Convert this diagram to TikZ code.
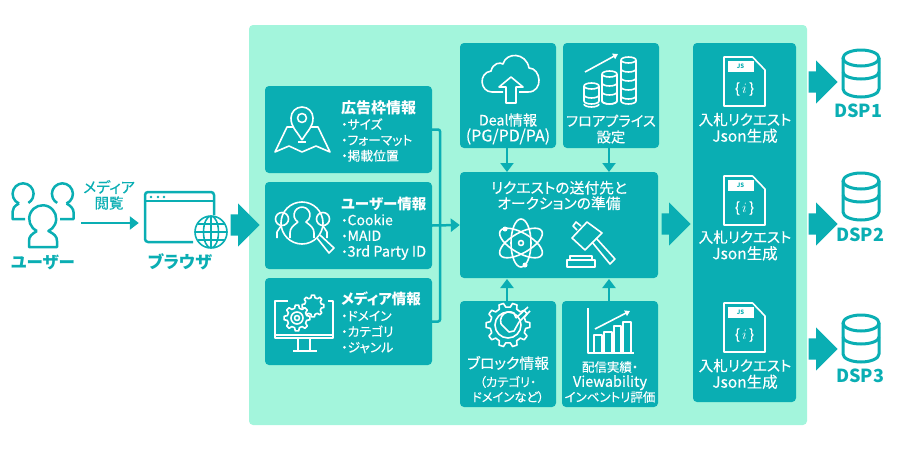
\documentclass[tikz,border=0pt]{standalone}
\usepackage{fontspec}
\setmainfont{Noto Sans CJK JP}[RawFeature={+palt},UprightFeatures={FakeBold=0.3}]
\usetikzlibrary{arrows.meta,positioning,shapes.arrows}
\definecolor{tealmain}{HTML}{0AAEB3}
\definecolor{mintback}{HTML}{A3F5DC}
\newcommand{\fs}[1]{\fontsize{#1}{#1}\selectfont}
% gear outline: x, y, outer radius, inner radius, angle step
\newcommand{\gearicon}[5]{
  \draw[icon,fill=tealmain,shift={(#1,#2)}] ({-0.3*#5}:#4)
    foreach \a in {0,#5,...,359} {
      -- ({\a-0.3*#5}:#4) -- ({\a-0.17*#5}:#3) -- ({\a+0.17*#5}:#3) -- ({\a+0.3*#5}:#4)
    } -- cycle;
}
% stack of coins: x, top y, bottom y
\newcommand{\coinstack}[3]{
  \draw[icon] (#1,#2) ellipse[x radius=7.5,y radius=3];
  \draw[icon] (#1-7.5,#2) -- (#1-7.5,#3-3) arc[start angle=180,end angle=0,x radius=7.5,y radius=3] -- (#1+7.5,#2);
  \foreach \yy in {#2,...,#3}{
    \pgfmathparse{int(mod(\yy-#2,9))}
    \ifnum\pgfmathresult=0 \ifnum\yy>#2
      \draw[icon] (#1-7.5,\yy) arc[start angle=180,end angle=0,x radius=7.5,y radius=3];
    \fi\fi
  }
}
\tikzset{
    % Define style for boxes
    panel/.style={
           rectangle,
           rounded corners=4pt,
           fill=tealmain,
           inner sep=0pt},
    % Define text styles
    tealtext/.style={text=tealmain,align=center,inner sep=0pt},
    whitetext/.style={text=white,align=center,inner sep=0pt},
    listtext/.style={text=white,align=left,anchor=west,inner sep=0pt,
           font=\fontsize{12.8}{15.7}\selectfont},
    jsontext/.style={whitetext,font=\fontsize{14.6}{16.5}\selectfont},
    % Define arrow styles
    pil/.style={
           -{Triangle[length=9pt,width=13pt]},
           draw=tealmain,
           line width=2.5pt},
    fatarrow/.style={
           single arrow,
           fill=tealmain,
           inner xsep=0pt,
           inner ysep=10.5pt,
           anchor=tip,
           minimum height=29pt,
           single arrow head extend=11pt},
    % Define icon lines
    icon/.style={draw=white,line width=1.6pt,line join=round},
    tealicon/.style={draw=tealmain,line width=2.5pt,line join=round},
    % json file on the right panel
    pics/fileicon/.style={code={
      \draw[icon] (-20.5,-24.5) -- (8,-24.5) -- (20.5,-11.5) -- (20.5,24.5) -- (-20.5,24.5) -- cycle;
      \fill[white] (-17,-20.5) rectangle (9,-9.5);
      \node[text=tealmain,inner sep=0pt,font=\bfseries\fs{6}] (-js) at (-4,-15) {JS};
      \node[whitetext,font=\fs{14}] (-brace) at (0,7.5) {\{\,$i$\,\}};
    }},
    % database drum
    pics/dbicon/.style={code={
      \draw[tealicon,line width=3pt] (0,-16) ellipse[x radius=18,y radius=8];
      \draw[tealicon,line width=3pt] (-18,-16) -- (-18,15)
        arc[start angle=180,end angle=0,x radius=18,y radius=8] -- (18,-16);
      \draw[tealicon,line width=3pt] (-18,-2) arc[start angle=180,end angle=0,x radius=18,y radius=7];
    }}
}
\begin{document}
\begin{tikzpicture}[x=1pt,y=-1pt]
  \useasboundingbox (0,0) rectangle (900,450);
  \node[fill=mintback,rounded corners=4pt,minimum width=558pt,minimum height=400pt,inner sep=0pt] (backarea) at (528,225) {};

  % left side
  \node[minimum width=76pt,inner sep=0pt] (users) at (43,223) {};
  \draw[tealicon] (19,203.5) arc[start angle=113,end angle=420,radius=10.5]
    (19,203.5) .. controls (14,206) and (12.5,209) .. (12.5,212) -- (12.5,219) -- (25,219);
  \draw[tealicon] (66.5,203.5) arc[start angle=67,end angle=-240,radius=10.5]
    (66.5,203.5) .. controls (71,206) and (73.5,209) .. (73.5,212) -- (73.5,219) -- (60,219);
  \draw[tealicon] (37,231) arc[start angle=115,end angle=425,radius=13.5]
    .. controls (54,234) and (57,236) .. (57,241) -- (57,247) -- (29,247) -- (29,241) .. controls (29,236) and (32,234) .. (37,231);
  \node[tealtext,font=\bfseries\fs{16.5}] (userlabel) at (43,262) {ユーザー};

  \node[minimum width=70pt,inner sep=0pt] (browser) at (179,223) {};
  \draw[tealicon,rounded corners=3pt] (193,242) -- (145,242) -- (145,192) -- (214,192) -- (214,215);
  \draw[tealicon] (145,201) -- (214,201);
  \foreach \dx in {151,158,164}{ \fill[tealmain] (\dx,197) circle[radius=1.4]; }
  \draw[tealmain,line width=1.6pt] (211,232) circle[radius=16] (211,232) ellipse[x radius=7.5,y radius=16]
    (195,232) -- (227,232) (211,216) -- (211,248) (198,224) -- (224,224) (198,240) -- (224,240);
  \node[tealtext,font=\bfseries\fs{17}] (browserlabel) at (180,262) {ブラウザ};
  \draw[pil,shorten >=5pt] (users) -- (browser);
  \node[tealtext,font=\fs{15}] (viewlabel) at (109,187) {メディア};
  \node[tealtext,font=\fs{14.5}] (viewlabeltwo) at (109,203) {閲覧};
  \node[fatarrow] (fatone) at (260,225) {};

  % three source boxes
  \node[panel,minimum width=167pt,minimum height=87pt] (adbox) at (348.5,129.5) {};
  \node[panel,minimum width=167pt,minimum height=87pt] (userbox) at (348.5,225.5) {};
  \node[panel,minimum width=167pt,minimum height=87pt] (mediabox) at (348.5,321.5) {};
  \node[whitetext,anchor=west,font=\bfseries\fs{15}] (adtitle) at (341,108) {広告枠情報};
  \node[listtext] (adlist) at (341,140) {・サイズ\\・フォーマット\\・掲載位置};
  \node[whitetext,anchor=west,font=\bfseries\fs{14.5}] (usertitle) at (341,204) {ユーザー情報};
  \node[listtext] (userlist) at (341,237) {・{\fs{14}Cookie}\\・{\fs{14}MAID}\\・{\fs{14.5}3rd Party ID}};
  \node[whitetext,anchor=west,font=\bfseries\fs{14.5}] (mediatitle) at (341,299) {メディア情報};
  \node[listtext] (medialist) at (341,332) {・ドメイン\\・カテゴリ\\・ジャンル};

  % map icon
  \draw[icon] (302,140) .. controls (296,130) and (291,127) .. (291,118) arc[start angle=180,end angle=360,radius=11]
    .. controls (313,127) and (308,130) .. (302,140);
  \draw[icon] (302,118) circle[radius=4.5];
  \draw[icon] (293,127) -- (287,127) -- (275,152) -- (289,146) -- (302,152) -- (316,146) -- (330,152) -- (318,127) -- (311,127);
  \draw[icon] (298,142) -- (306,142);
  % search icon
  \draw[icon] (302,223) circle[radius=21];
  \draw[icon] (298,222) arc[start angle=120,end angle=420,radius=8]
    .. controls (311,226) and (314,228) .. (314,233) -- (314,238) (290,238) -- (290,233) .. controls (290,228) and (293,226) .. (298,222);
  \draw[icon] (282,219) circle[radius=6.5] (277,238) -- (277,232) -- (281,226);
  \draw[icon] (323,219) circle[radius=6.5] (327,238) -- (327,232) -- (323,226);
  \draw[icon] (317,238) -- (329,253) -- (334,248) -- (320,235);
  % monitor icon
  \draw[icon] (288,301) -- (275,301) -- (275,338) -- (333,338) -- (333,301) -- (328,301);
  \draw[icon] (275,335) -- (333,335) (298,338) -- (298,351) (310,338) -- (310,351) (293,351) -- (317,351);
  \gearicon{313}{306}{11}{8.5}{45}
  \gearicon{297}{318}{13}{10}{45}
  \draw[icon] (297,318) circle[radius=2.5] (297,318) circle[radius=6];

  % bus to the centre box
  \coordinate (busturn) at (440,225);
  \draw[draw=tealmain,line width=2.5pt,rounded corners=2pt] (adbox.east) -| (busturn) |- (mediabox.east);
  \node[panel,minimum width=198pt,minimum height=106pt] (centerbox) at (559,225) {};
  \draw[pil] (userbox.east) -- (centerbox.west);
  \node[whitetext,font=\fontsize{14.8}{15.5}\selectfont] (centerlabel) at (559,195.5) {リクエストの送付先と\\オークションの準備};

  % top boxes
  \node[panel,minimum width=96pt,minimum height=105pt] (dealbox) at (508,95.5) {};
  \node[panel,minimum width=96pt,minimum height=105pt] (floorbox) at (611,95.5) {};
  \node[whitetext,font=\fontsize{14.3}{16}\selectfont] (deallabel) at (508,129) {Deal情報\\{\fs{16}(PG/PD/PA)}};
  \node[whitetext,font=\fontsize{14.3}{16}\selectfont] (floorlabel) at (611,129) {フロアプライス\\設定};
  \draw[pil] (dealbox.south -| 507,0) -- (507,172);
  \draw[pil] (floorbox.south -| 609,0) -- (609,172);
  % cloud icon
  \draw[icon] (503,92) -- (492,92) .. controls (480,92) and (478,73) .. (491,71) .. controls (493,63) and (500,62) .. (503,64)
    .. controls (506,52) and (526,52) .. (529,68) .. controls (541,68) and (544,92) .. (528,92) -- (519,92);
  \draw[icon] (506,103) -- (516,103) -- (516,87) -- (523,87) -- (511,77) -- (499,87) -- (506,87) -- cycle;
  % coins icon
  \coinstack{591.5}{86}{104}
  \coinstack{609.5}{74}{104}
  \coinstack{628.5}{60}{104}
  \draw[icon,-{Triangle[length=5pt,width=6pt]}] (585,72) -- (618,54);

  % center icons
  \foreach \rr in {30,90,150}{
    \draw[icon,rotate around={\rr:(521,243)}] (521,243) ellipse[x radius=24,y radius=10];
  }
  \draw[icon] (521,243) circle[radius=2.5];
  \fill[white] (505,229) circle[radius=2.5] (525,265) circle[radius=2.5];
  \draw[icon] (587,222) -- (602,233) -- (585,250) -- (572,238) -- cycle;
  \draw[icon] (581,226) -- (576,222) -- (573,226) -- (577,230);
  \draw[icon] (592,242) -- (610,264) -- (615,259) -- (596,238);
  \draw[icon] (567,267) -- (567,260) -- (595,260) -- (595,267) -- cycle (570,260) -- (570,256) -- (592,256) -- (592,260);

  % bottom boxes
  \node[panel,minimum width=96pt,minimum height=106pt] (blockbox) at (508,354) {};
  \node[panel,minimum width=96pt,minimum height=106pt] (statsbox) at (610,354) {};
  \node[whitetext,font=\fs{14.8}] (blocklabel) at (508,363) {ブロック情報};
  \node[whitetext,font=\fontsize{12.3}{15}\selectfont] (blocksub) at (508,389.5) {（カテゴリ・\\ドメインなど）};
  \node[whitetext,font=\fontsize{12.5}{15}\selectfont] (statslabel) at (610,382) {配信実績・\\{\fs{14.5}Viewability}\\インベントリ評価};
  \draw[pil] (507,301) -- (507,279);
  \draw[pil] (609,301) -- (609,279);
  % gear and wrench icon
  \gearicon{508}{325}{22}{18}{36}
  \draw[icon] (508,325) circle[radius=13];
  \draw[icon] (516,318) -- (528,307) (519,322) -- (530,311);
  \draw[icon] (514,313) arc[start angle=-60,end angle=-200,radius=9] -- (503,326) -- (509,332) -- (514,331) -- (519,322) (514,313) -- (516,318);
  % chart icon
  \draw[icon] (588,308) -- (588,353) -- (634,353);
  \foreach \xa/\xb/\ty in {594/602/335,604/612/332,614/621/326,623/631/322}{
    \draw[icon] (\xa,353) -- (\xa,\ty) -- (\xb,\ty) -- (\xb,353);
  }
  \draw[icon,-{Triangle[length=5pt,width=6pt]}] (595,329) -- (630,311);

  \node[fatarrow] (fattwo) at (691,224) {};

  % right panel
  \node[panel,minimum width=103pt,minimum height=359pt] (jsonbox) at (744.5,222.5) {};
  \pic (fileone) at (744.5,81.5) {fileicon};
  \pic (filetwo) at (744.5,200.5) {fileicon};
  \pic (filethree) at (744.5,327.5) {fileicon};
  \node[jsontext] (jsonone) at (745,128) {入札リクエスト\\{\fs{15.5}Json生成}};
  \node[jsontext] (jsontwo) at (745,245.5) {入札リクエスト\\{\fs{15.5}Json生成}};
  \node[jsontext] (jsonthree) at (745,374) {入札リクエスト\\{\fs{15.5}Json生成}};

  % dsp column
  \node[fatarrow] (dspone) at (838,82) {};
  \node[fatarrow] (dsptwo) at (838,224) {};
  \node[fatarrow] (dspthree) at (838,349) {};
  \pic (dbone) at (861,74) {dbicon};
  \pic (dbtwo) at (861,197) {dbicon};
  \pic (dbthree) at (861,339) {dbicon};
  \node[tealtext,font=\bfseries\fs{18}] (dsplabelone) at (858,111) {DSP1};
  \node[tealtext,font=\bfseries\fs{18}] (dsplabeltwo) at (860,235) {DSP2};
  \node[tealtext,font=\bfseries\fs{18}] (dsplabelthree) at (860,376) {DSP3};
\end{tikzpicture}
\end{document}
